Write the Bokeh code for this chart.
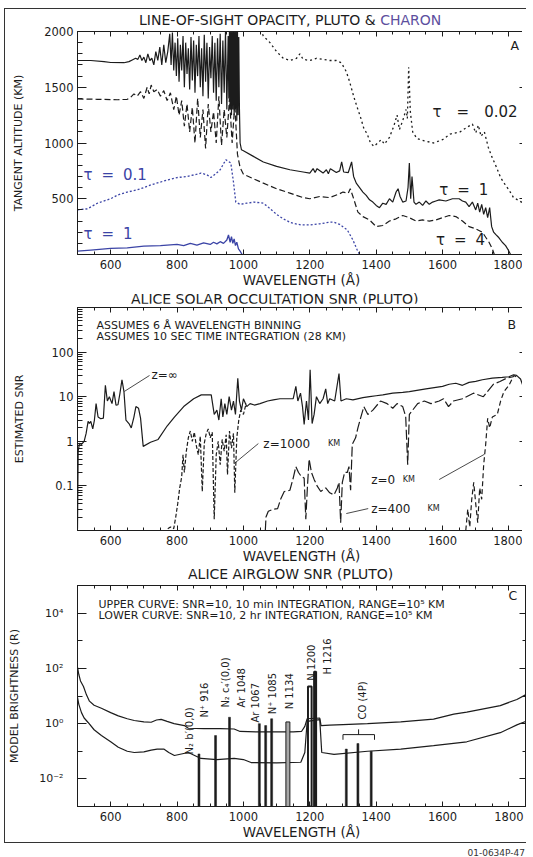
import math
from bokeh.plotting import figure
from bokeh.models import (Range1d, LinearAxis, LogAxis, FixedTicker, SingleIntervalTicker,
                          CustomJSTickFormatter, Label, Div)
from bokeh.layouts import column
from bokeh.embed import file_html
from bokeh.resources import INLINE

FONT = "DejaVu Sans"
INK = "#1c1c1c"
BLUE = "#3b44a6"
PURPLE = "#5d4f9e"

# ------------------------------------------------------------------ DATA
# Panel A : line-of-sight opacity, tangent altitude (km) vs wavelength (A)
PLUTO_TAU1 = [(500,1740),(540,1740),(580,1730),(600,1722),(640,1720),(655,1730),(665,1745),(675,1760),
    (682,1750),(688,1790),(694,1740),(700,1770),(706,1720),(712,1800),(718,1740),(724,1760),(730,1700),
    (736,1820),(742,1740),(748,1860),(754,1700),(760,1880),(766,1720),(772,1820),(778,1980),(782,1700),
    (786,1990),(790,1650),(794,1900),(798,1600),(802,1940),(806,1550),(810,1880),(814,1650),(818,1960),
    (822,1500),(826,1900),(830,1620),(834,1850),(838,1480),(842,1950),(846,1560),(850,1920),(854,1450),
    (858,1880),(862,1600),(866,1960),(870,1500),(874,1850),(878,1420),(882,1970),(886,1550),(890,1900),
    (894,1400),(898,1860),(902,1580),(906,1960),(910,1450),(914,1900),(918,1380),(922,1940),(926,1500),
    (930,1980),(934,1350),(938,1920),(942,1450),(946,2000),(950,1300),(954,1960),(956,1400),(958,2050),
    (960,1300),(962,2050),(964,1250),(966,2050),(968,1300),(970,2050),(972,1250),(974,2050),(976,1300),
    (978,2050),(980,1200),(982,2050),(984,1250),(986,1950),(988,1300),(990,1000),(994,940),(1000,930),
    (1030,880),(1060,830),(1100,790),(1140,760),(1180,740),(1200,730),(1210,770),(1216,735),(1222,770),
    (1240,730),(1250,760),(1256,725),(1262,770),(1280,735),(1290,750),(1296,830),(1302,740),(1316,735),
    (1326,830),(1332,700),(1340,640),(1350,600),(1360,560),(1370,530),(1380,490),(1390,470),(1400,440),
    (1410,420),(1420,460),(1430,450),(1440,500),(1450,470),(1460,560),(1466,590),(1472,520),(1480,470),
    (1490,480),(1496,600),(1500,820),(1504,500),(1508,700),(1514,470),(1520,450),(1530,470),(1540,440),
    (1550,480),(1560,450),(1570,470),(1580,480),(1590,490),(1610,480),(1630,500),(1650,500),(1660,480),
    (1670,470),(1680,430),(1690,470),(1700,400),(1706,460),(1712,380),(1718,450),(1724,360),(1730,420),
    (1736,330),(1742,420),(1748,250),(1754,200),(1760,180),(1770,150),(1780,110),(1790,80),(1798,40),
    (1805,0)]
PLUTO_TAU4 = [(500,1395),(560,1392),(620,1388),(650,1392),(660,1410),(670,1440),(680,1420),(690,1460),
    (700,1400),(710,1500),(716,1440),(722,1520),(730,1460),(740,1480),(750,1420),(760,1470),(770,1380),
    (780,1450),(790,1300),(798,1420),(806,1250),(814,1380),(822,1150),(830,1350),(838,1100),(846,1320),
    (854,1000),(862,1400),(870,1050),(878,1300),(886,950),(894,1350),(902,1100),(910,1280),(918,1000),
    (926,1420),(934,980),(942,1300),(950,1050),(958,1400),(966,1000),(974,1350),(982,900),(990,780),
    (1000,720),(1030,680),(1060,640),(1100,590),(1140,550),(1180,510),(1200,500),(1230,520),(1260,510),
    (1290,545),(1300,560),(1316,550),(1322,590),(1330,520),(1345,380),(1360,340),(1380,310),(1400,250),
    (1420,260),(1440,300),(1460,320),(1480,350),(1500,330),(1520,300),(1540,310),(1560,300),(1580,310),
    (1600,330),(1620,350),(1640,340),(1660,300),(1680,250),(1700,230),(1720,200),(1740,110),(1750,50),
    (1756,0)]
PLUTO_TAU002 = [(1040,2100),(1060,1960),(1080,1900),(1100,1820),(1120,1760),(1140,1740),(1160,1760),
    (1170,1800),(1180,1750),(1200,1740),(1220,1760),(1240,1750),(1260,1740),(1280,1740),(1295,1720),
    (1310,1640),(1320,1550),(1333,1410),(1345,1300),(1353,1230),(1363,1130),(1373,1080),(1383,1000),
    (1393,970),(1405,1000),(1415,1030),(1425,990),(1440,1050),(1453,1150),(1463,1250),(1470,1120),
    (1480,1200),(1490,1300),(1494,1220),(1498,1680),(1503,1280),(1510,1100),(1523,1040),(1545,1020),
    (1573,1000),(1600,1030),(1623,1080),(1653,1100),(1673,1140),(1690,1170),(1700,1090),(1708,1160),
    (1716,1060),(1726,1100),(1738,960),(1748,880),(1760,800),(1775,690),(1790,620),(1800,580),
    (1814,510),(1829,485),(1850,450)]
CHARON_TAU01 = [(500,400),(530,410),(560,460),(600,500),(622,535),(650,560),(680,580),(700,600),
    (722,625),(750,650),(773,670),(800,690),(830,700),(860,720),(872,730),(890,715),(902,690),(915,720),
    (930,760),(947,850),(955,835),(962,820),(970,650),(977,470),(990,450),(1010,460),(1032,470),
    (1060,460),(1073,430),(1100,360),(1120,320),(1143,285),(1173,265),(1200,265),(1230,275),(1260,290),
    (1273,290),(1290,270),(1313,220),(1330,130),(1343,40),(1350,0)]
CHARON_TAU1 = [(500,30),(540,40),(600,55),(650,60),(700,75),(750,80),(800,90),(820,80),(840,100),
    (860,85),(880,105),(900,90),(910,110),(920,95),(930,115),(940,100),(950,130),(955,175),(960,110),
    (964,160),(968,100),(972,140),(976,80),(980,110),(985,50),(990,30),(996,0)]

# Panel B : estimated SNR vs wavelength for tangent heights z
SNR_ZINF = [(500,0.011),(502,0.6),(506,0.9),(512,0.85),(520,1.0),(526,1.5),(532,2.8),(536,2.5),
    (540,2.8),(546,1.9),(551,3.0),(556,7.0),(562,3.5),(570,3.2),(578,3.3),(584,18),(590,8),(596,10),
    (604,7),(610,13),(616,6.5),(622,6.6),(628,12),(634,24),(640,13),(646,3.0),(655,2.5),(662,2.0),
    (670,3.5),(676,6),(684,5.5),(690,3.3),(698,0.77),(720,0.95),(743,1.1),(770,2.2),(792,3.5),(820,6),
    (850,9),(873,11),(903,11),(912,4),(920,5),(926,3.0),(933,9),(938,3.5),(944,7),(950,4),(957,10),
    (964,5),(970,8),(976,4),(983,26),(988,8),(994,5),(1000,9),(1010,6),(1020,7),(1033,6.5),(1050,7),
    (1073,8),(1090,8.5),(1110,9),(1130,9),(1150,9),(1158,17),(1164,8),(1172,12),(1178,6),(1183,2.4),
    (1190,8),(1196,3),(1201,40),(1207,2.5),(1213,4),(1220,10),(1230,7),(1240,9),(1248,15),(1254,7),
    (1260,9),(1275,8),(1288,33),(1294,8),(1310,9),(1330,8.5),(1360,9.5),(1380,10),(1400,10.5),
    (1420,11),(1450,12),(1480,12.5),(1500,13),(1550,15),(1600,17),(1620,19),(1640,20),(1660,18),
    (1680,21),(1700,22),(1720,24),(1750,26),(1780,27),(1800,28),(1814,31),(1823,30),(1835,25),(1850,12)]
SNR_Z1000 = [(772,0.011),(780,0.012),(790,0.011),(796,0.02),(802,0.04),(808,0.09),(814,0.16),(818,0.5),
    (822,0.2),(828,0.6),(834,1.2),(840,1.7),(846,1.0),(852,1.6),(858,0.8),(864,0.5),(870,1.3),(876,0.075),
    (882,0.9),(888,1.5),(894,1.9),(900,1.2),(906,1.6),(912,0.018),(918,0.5),(924,1.0),(930,0.3),(936,1.1),
    (942,0.6),(948,1.4),(952,0.18),(958,1.7),(964,0.7),(970,1.5),(974,0.07),(980,1.2),(986,3.0),(992,5),
    (1000,4),(1008,7)]
SNR_Z400 = [(1066,0.01),(1068,0.02),(1075,0.027),(1090,0.03),(1103,0.031),(1112,0.05),(1123,0.075),
    (1140,0.08),(1150,0.15),(1158,0.27),(1166,0.2),(1175,0.16),(1183,0.15),(1188,0.018),(1193,0.1),
    (1198,0.4),(1205,0.2),(1213,0.14),(1222,0.1),(1233,0.075),(1248,0.09),(1260,0.07),(1273,0.063),
    (1283,0.09),(1288,0.12),(1293,0.015),(1298,0.12),(1305,0.2),(1313,0.2),(1318,0.27),(1323,0.08),
    (1328,0.86),(1338,1.2),(1345,2.0),(1353,3.3),(1363,6),(1375,4),(1390,5),(1413,8),(1433,7),(1450,5.5),
    (1463,7),(1480,6),(1489,3.6),(1495,0.3),(1500,4),(1525,7),(1545,8),(1565,7),(1590,8),(1603,9),
    (1618,6),(1633,8),(1660,9),(1693,12),(1723,10),(1753,19),(1773,22),(1793,26),(1813,28)]
SNR_Z0 = [(1670,0.01),(1676,0.03),(1682,0.012),(1688,0.05),(1694,0.12),(1700,0.04),(1706,0.015),
    (1712,0.09),(1718,0.05),(1724,0.3),(1730,0.85),(1736,3.3),(1742,2),(1750,3.5),(1765,4),(1775,8),
    (1785,13),(1800,18),(1815,30),(1822,28)]

# Panel C : detectable brightness (R) curves and emission lines
UPPER_CURVE = [(500,110),(504,60),(509,35),(518,22),(527,11),(536,6.5),(550,4.6),(572,3.6),(600,2.5),
    (623,1.9),(650,1.5),(671,1.3),(700,1.15),(722,1.12),(738,1.35),(752,1.42),(770,1.2),(791,1.0),
    (822,0.85),(834,0.68),(880,0.66),(930,0.66),(972,0.64),(990,0.52),(1050,0.5),(1100,0.5),(1150,0.5),
    (1175,0.52),(1185,0.8),(1192,1.5),(1230,1.6),(1234,0.85),(1260,0.88),(1300,0.92),(1374,1.0),
    (1474,1.15),(1573,1.45),(1634,2.2),(1673,2.6),(1774,4.5),(1824,7.5),(1850,11)]
LOWER_CURVE = [(500,9),(504,5),(512,2.5),(520,1.6),(532,1.1),(550,0.6),(572,0.37),(600,0.22),(623,0.14),
    (650,0.1),(671,0.09),(700,0.095),(722,0.11),(740,0.12),(760,0.12),(775,0.09),(792,0.07),(834,0.09),
    (872,0.055),(920,0.05),(972,0.055),(1000,0.05),(1023,0.039),(1100,0.038),(1173,0.04),(1185,0.09),
    (1192,1.2),(1230,1.4),(1236,0.09),(1273,0.077),(1374,0.1),(1474,0.12),(1573,0.16),(1673,0.22),
    (1774,0.47),(1824,0.9),(1850,1.2)]
EMIS_WL = [866, 916, 958, 1048, 1067, 1085]
EMIS_R = [0.08, 0.37, 1.7, 1.0, 0.85, 1.5]
N1134_WL = [1134]
N1134_R = [1.15]
N_H_WL = [1200, 1216]
N_H_R = [22, 75]
CO_WL = [1310, 1345, 1385]
CO_R = [0.12, 0.19, 0.1]
LINE_LABELS = ["N\u2082 b\u2032(0,0)", "N\u207a 916", "N\u2082 c\u2084\u2032(0,0)", "Ar 1048",
               "Ar 1067", "N\u207a 1085", "N 1134", "N 1200", "H 1216", "CO (4P)"]

WL_RANGE = (500, 1850)


def xy(pairs):
    return [a for a, _ in pairs], [b for _, b in pairs]


FW = 448


def style_axis(ax, tin, mtin, size="11.5px", standoff=5):
    ax.axis_line_color = INK
    ax.major_tick_in = tin
    ax.major_tick_out = 0
    ax.minor_tick_in = mtin
    ax.minor_tick_out = 0
    ax.major_tick_line_color = INK
    ax.minor_tick_line_color = INK
    ax.major_label_text_font = FONT
    ax.major_label_text_font_size = size
    ax.major_label_text_color = INK
    ax.major_label_standoff = standoff
    ax.axis_label_text_font = FONT
    ax.axis_label_text_font_style = "normal"
    ax.axis_label_text_color = INK


def make_panel(fh, top, yr, ylog, yticker, yticker2, ylabel, yl_standoff, yformatter=None,
               ylab_standoff=4, ylab_size="11.5px"):
    p = figure(frame_width=FW, frame_height=fh, x_range=Range1d(*WL_RANGE), y_range=Range1d(*yr),
               y_axis_type="log" if ylog else "linear", output_backend="svg", toolbar_location=None,
               min_border_left=67, min_border_right=1, min_border_top=top, min_border_bottom=35,
               background_fill_color="white", border_fill_color="white", margin=0)
    p.grid.visible = False
    p.outline_line_color = INK
    xa = p.xaxis[0]
    xa.ticker = SingleIntervalTicker(interval=200, num_minor_ticks=4)
    style_axis(xa, 5, 3)
    xa.axis_label = "WAVELENGTH (\u00c5)"
    xa.axis_label_text_font_size = "13.5px"
    xa.axis_label_standoff = 0
    ya = p.yaxis[0]
    ya.ticker = yticker
    style_axis(ya, 9, 5, size=ylab_size, standoff=ylab_standoff)
    if yformatter is not None:
        ya.formatter = yformatter
    ya.axis_label = ylabel
    ya.axis_label_text_font_size = "11px"
    ya.axis_label_standoff = yl_standoff
    top_ax = LinearAxis(ticker=SingleIntervalTicker(interval=200, num_minor_ticks=4),
                        formatter=CustomJSTickFormatter(code="return '';"))
    style_axis(top_ax, 5, 3, size="1px", standoff=0)
    p.add_layout(top_ax, "above")
    right_ax = (LogAxis if ylog else LinearAxis)(ticker=yticker2,
                                                 formatter=CustomJSTickFormatter(code="return '';"))
    style_axis(right_ax, 6, 3, size="1px", standoff=0)
    p.add_layout(right_ax, "right")
    return p


def stext(p, fh, x, y_from_top, text, size, color=INK, align="left"):
    p.add_layout(Label(x=x, y=fh - y_from_top, x_units="screen", y_units="screen", text=text,
                       text_font=FONT, text_font_size=size, text_color=color, text_align=align,
                       text_baseline="middle"))


def dtext(p, x, y, text, size, color=INK, align="left", angle=0.0):
    p.add_layout(Label(x=x, y=y, text=text, text_font=FONT, text_font_size=size, text_color=color,
                       text_align=align, text_baseline="middle", angle=angle))


def title_div(html, height, line_height, indent):
    return Div(text=html, width=516, height=height, margin=0,
               styles={"font-family": FONT, "font-size": "14px", "line-height": f"{line_height}px",
                       "text-indent": f"{indent}px", "white-space": "nowrap", "color": INK,
                       "overflow": "visible"})


# ------------------------------------------------------------------ PANEL A
FHA = 223
a_ticks = FixedTicker(ticks=[500, 1000, 1500, 2000], minor_ticks=list(range(100, 2000, 100)))
a_ticks2 = FixedTicker(ticks=[500, 1000, 1500, 2000], minor_ticks=list(range(100, 2000, 100)))
pA = make_panel(FHA, 5, (0, 2000), False, a_ticks, a_ticks2, "TANGENT ALTITUDE (KM)", 16)
x, y = xy(PLUTO_TAU1)
pA.line(x, y, line_color=INK, line_width=1.2)
x, y = xy(PLUTO_TAU4)
pA.line(x, y, line_color=INK, line_width=1.2, line_dash="6 3")
x, y = xy(PLUTO_TAU002)
pA.line(x, y, line_color=INK, line_width=1.3, line_dash="2 3")
x, y = xy(CHARON_TAU01)
pA.line(x, y, line_color=BLUE, line_width=1.3, line_dash="2 2")
x, y = xy(CHARON_TAU1)
pA.line(x, y, line_color=BLUE, line_width=1.3)
stext(pA, FHA, 433, 14, "A", "12.5px")
EM = "\u2003"
SP = "\u2002\u200a"
dtext(pA, 1570, 1280, f"\u03c4{EM}={EM}0.02", "15px")
dtext(pA, 1590, 574, f"\u03c4{SP}={SP}1", "15px")
dtext(pA, 1580, 126, f"\u03c4{SP}={SP}4", "15px")
dtext(pA, 518, 710, f"\u03c4{SP}={SP}0.1", "15px", color=BLUE)
dtext(pA, 518, 180, f"\u03c4{SP}={SP}1", "15px", color=BLUE)
tA = title_div(f'LINE-OF-SIGHT OPACITY, PLUTO &amp; <span style="color:{PURPLE}">CHARON</span>',
               17, 22, 134)

# ------------------------------------------------------------------ PANEL B
FHB = 223
decades_b = [0.01, 0.1, 1, 10, 100, 1000]
minor_b = [m * d for d in decades_b[:-1] for m in range(2, 10)]
b_ticks = FixedTicker(ticks=[0.1, 1, 10, 100], minor_ticks=minor_b)
b_ticks2 = FixedTicker(ticks=[0.1, 1, 10, 100], minor_ticks=minor_b)
b_fmt = CustomJSTickFormatter(code="return tick >= 1 ? tick.toFixed(0) : String(tick);")
pB = make_panel(FHB, 4, (0.01, 1000), True, b_ticks, b_ticks2, "ESTIMATED SNR", 23, yformatter=b_fmt)
x, y = xy(SNR_ZINF)
pB.line(x, y, line_color=INK, line_width=1.2)
x, y = xy(SNR_Z1000)
pB.line(x, y, line_color=INK, line_width=1.2, line_dash="4 2")
x, y = xy(SNR_Z400)
pB.line(x, y, line_color=INK, line_width=1.2, line_dash="10 3")
x, y = xy(SNR_Z0)
pB.line(x, y, line_color=INK, line_width=1.2, line_dash="5 3")
stext(pB, FHB, 430, 16.5, "B", "12.5px")
stext(pB, FHB, 19, 17.5, "ASSUMES 6 \u00c5 WAVELENGTH BINNING", "11px")
stext(pB, FHB, 19, 29, "ASSUMES 10 SEC TIME INTEGRATION (28 KM)", "11px")
dtext(pB, 723, 31, "z=\u221e", "12px")
dtext(pB, 1060, 0.89, "z=1000", "12px")
dtext(pB, 1255, 0.89, "KM", "8px")
dtext(pB, 1385, 0.139, "z=0", "12px")
dtext(pB, 1480, 0.139, "KM", "8px")
dtext(pB, 1385, 0.031, "z=400", "12px")
dtext(pB, 1555, 0.031, "KM", "8px")
pB.segment(x0=[717, 1045, 1590, 1310], y0=[29.9, 0.89, 0.139, 0.024],
           x1=[641, 973, 1726, 1376], y1=[13.1, 0.32, 0.51, 0.031], line_color=INK, line_width=0.8)
tB = title_div("ALICE SOLAR OCCULTATION SNR (PLUTO)", 13, 18, 126)

# ------------------------------------------------------------------ PANEL C
FHC = 221
c_ticks = FixedTicker(ticks=[1e-2, 1, 1e2, 1e4], minor_ticks=[1e-3, 1e-1, 1e1, 1e3, 1e5])
c_ticks2 = FixedTicker(ticks=[1e-2, 1, 1e2, 1e4], minor_ticks=[1e-3, 1e-1, 1e1, 1e3, 1e5])
c_fmt = CustomJSTickFormatter(code="""
const e = Math.round(Math.log10(tick));
const m = {"-": "\u207b", "0": "\u2070", "1": "\u00b9", "2": "\u00b2", "3": "\u00b3", "4": "\u2074", "5": "\u2075"};
return "10" + String(e).split("").map(c => m[c]).join("");
""")
pC = make_panel(FHC, 5, (1e-3, 1e5), True, c_ticks, c_ticks2, "MODEL BRIGHTNESS (R)", 15,
                yformatter=c_fmt, ylab_standoff=14, ylab_size="11px")
pC.yaxis[0].minor_tick_in = 5
x, y = xy(UPPER_CURVE)
pC.line(x, y, line_color=INK, line_width=1.2)
x, y = xy(LOWER_CURVE)
pC.line(x, y, line_color=INK, line_width=1.2)
pC.vbar(x=EMIS_WL, top=EMIS_R, bottom=1e-3, width=6, fill_color=INK, line_color=INK, line_width=0.5)
pC.vbar(x=CO_WL, top=CO_R, bottom=1e-3, width=6, fill_color=INK, line_color=INK, line_width=0.5)
pC.vbar(x=N1134_WL, top=N1134_R, bottom=1e-3, width=12, fill_color="#a8a8a8", line_color=INK, line_width=1)
pC.vbar(x=N_H_WL, top=N_H_R, bottom=1e-3, width=[11, 6], fill_alpha=0, line_color=INK, line_width=2)
# CO (4P) bracket
pC.line([1300, 1300, 1395, 1395], [0.26, 0.4, 0.4, 0.26], line_color=INK, line_width=1)
pC.line([1347, 1347], [0.4, 0.62], line_color=INK, line_width=1)
stext(pC, FHC, 431, 10, "C", "12.5px")
stext(pC, FHC, 21, 19, "UPPER CURVE: SNR=10, 10 min INTEGRATION, RANGE=10\u2075 KM", "11px")
stext(pC, FHC, 21, 30, "LOWER CURVE: SNR=10, 2 hr INTEGRATION, RANGE=10\u2075 KM", "11px")
label_pos = [(838, 0.077), (883, 1.65), (945, 3.8), (995, 3.8), (1035, 1.09), (1088, 2.17),
             (1138, 3.3), (1204, 36), (1254, 60), (1358, 1.4)]
for txt, (lx, ly) in zip(LINE_LABELS, label_pos):
    dtext(pC, lx, ly, txt, "10px", angle=math.pi / 2)
tC = title_div("ALICE AIRGLOW SNR (PLUTO)", 14, 17, 183)

# ------------------------------------------------------------------ LAYOUT
frame = column(tA, pA, tB, pB, tC, pC, spacing=0, margin=0,
               styles={"border-top": "1px solid #333", "border-left": "1px solid #333",
                       "border-bottom": "1px solid #333"})
note = Div(text="01-0634P-47", width=521, height=14, margin=0,
           styles={"text-align": "right", "font-size": "9px", "line-height": "20px",
                   "font-family": FONT, "color": "#333", "white-space": "nowrap"})
page = column(frame, note, spacing=0, margin=(8, 0, 0, 4))

open("out.html", "w").write(file_html(page, INLINE))
